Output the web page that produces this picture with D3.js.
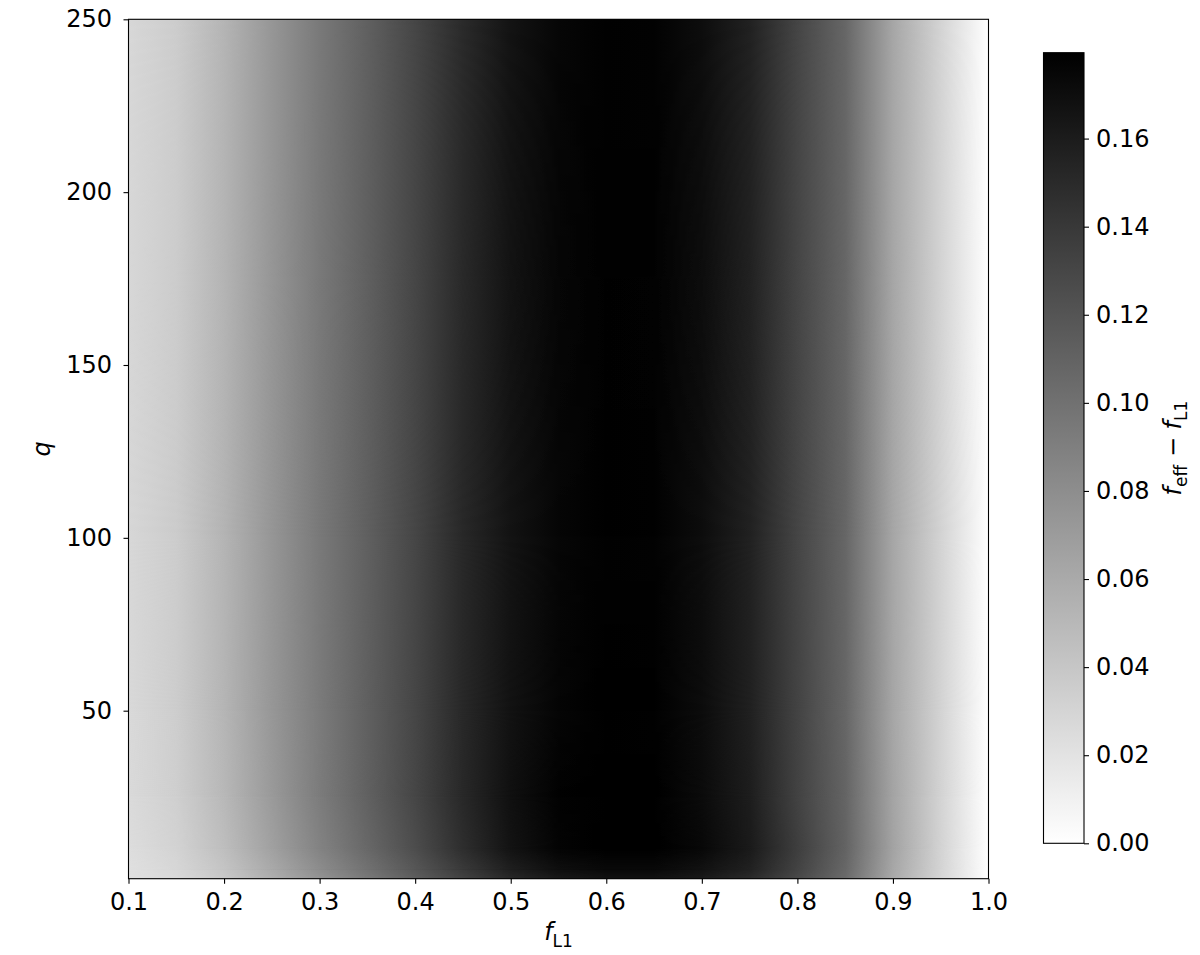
<!DOCTYPE html>
<html><head><meta charset="utf-8">
<script src="https://cdn.jsdelivr.net/npm/d3@7"></script>
<style>body{margin:0;background:#fff} svg{display:block} text{font-family:'DejaVu Sans',sans-serif}</style>
</head><body><svg id="c" width="1200" height="955"></svg>
<script>
// ---- data ----
const fL1 = [0.10,0.15,0.20,0.25,0.30,0.35,0.40,0.45,0.50,0.55,0.60,0.65,0.70,0.75,0.80,0.85,0.90,0.95,1.00];
const qRows = [1.4, 4, 10, 25, 50, 100, 250];
const z_q1  = [0.021,0.026,0.038,0.056,0.075,0.094,0.113,0.133,0.151,0.162,0.167,0.167,0.161,0.150,0.128,0.104,0.060,0.029,0.000];
const z_q4  = [0.022,0.028,0.041,0.060,0.080,0.099,0.118,0.139,0.158,0.169,0.173,0.173,0.167,0.156,0.132,0.107,0.062,0.030,0.000];
const z_q10 = [0.024,0.031,0.046,0.066,0.087,0.106,0.125,0.147,0.166,0.177,0.182,0.182,0.174,0.161,0.136,0.110,0.065,0.031,0.000];
const z_q25 = [0.026,0.034,0.050,0.071,0.092,0.111,0.130,0.151,0.168,0.178,0.182,0.181,0.172,0.159,0.133,0.109,0.064,0.031,0.000];
const z_q50 = [0.027,0.035,0.052,0.073,0.093,0.112,0.130,0.151,0.167,0.176,0.180,0.179,0.171,0.157,0.132,0.108,0.063,0.031,0.000];
const z_q100= [0.028,0.036,0.053,0.074,0.094,0.112,0.130,0.151,0.166,0.175,0.179,0.178,0.170,0.156,0.131,0.108,0.063,0.031,0.000];
const z_q250= [0.028,0.036,0.053,0.074,0.094,0.112,0.130,0.150,0.166,0.175,0.179,0.178,0.170,0.156,0.131,0.108,0.063,0.031,0.000];
const xTicks = [0.1,0.2,0.3,0.4,0.5,0.6,0.7,0.8,0.9,1.0];
const yTicks = [50,100,150,200,250];
const cbTicks = [0,0.02,0.04,0.06,0.08,0.10,0.12,0.14,0.16];
const vMax = 0.1795;
const rows = [z_q1,z_q4,z_q10,z_q25,z_q50,z_q100,z_q250];

// ---- layout ----
const L=128.5,R=988.5,T=19.3,B=878.7;
const CBL=1043.5,CBR=1084,CBT=52.7,CBB=843.3;
const FS=24;

const svg = d3.select('#c');
const x = d3.scaleLinear().domain([0.1,1.0]).range([L,R]);
const y = d3.scaleLinear().domain([1.4,250]).range([B,T]);
const color = d3.scaleLinear().domain([0,vMax]).range(['#ffffff','#000000']).clamp(true);
const defs = svg.append('defs');
const x0 = x(fL1[0]), x1 = x(fL1[fL1.length-1]);

rows.forEach((r,i)=>{
  const g = defs.append('linearGradient').attr('id','row'+i)
    .attr('gradientUnits','userSpaceOnUse')
    .attr('x1',x0).attr('x2',x1).attr('y1',0).attr('y2',0);
  g.selectAll('stop').data(r).join('stop')
    .attr('offset',(d,j)=>(x(fL1[j])-x0)/(x1-x0))
    .attr('stop-color',d=>color(d));
});
for(let i=0;i<qRows.length-1;i++){
  const yb=y(qRows[i]), yt=y(qRows[i+1]);
  const vg = defs.append('linearGradient').attr('id','v'+i)
    .attr('gradientUnits','userSpaceOnUse')
    .attr('x1',0).attr('x2',0).attr('y1',yb).attr('y2',yt);
  vg.append('stop').attr('offset',0).attr('stop-color','#000');
  vg.append('stop').attr('offset',1).attr('stop-color','#fff');
  const m = defs.append('mask').attr('id','m'+i)
    .attr('maskUnits','userSpaceOnUse').attr('x',L-2).attr('y',yt-2).attr('width',R-L+4).attr('height',yb-yt+4);
  m.append('rect').attr('x',L-2).attr('y',yt-1).attr('width',R-L+4).attr('height',yb-yt+2).attr('fill','url(#v'+i+')');
}

const heat = svg.append('g');
heat.append('rect').attr('x',L).attr('y',T).attr('width',R-L).attr('height',B-T).attr('fill','url(#row4)');
for(let i=0;i<qRows.length-1;i++){
  const yb=y(qRows[i]), yt=y(qRows[i+1]);
  heat.append('rect').attr('x',L).attr('y',yt).attr('width',R-L).attr('height',yb-yt).attr('fill','url(#row'+i+')');
  heat.append('rect').attr('x',L).attr('y',yt).attr('width',R-L).attr('height',yb-yt).attr('fill','url(#row'+(i+1)+')').attr('mask','url(#m'+i+')');
}

// frame
svg.append('rect').attr('x',L).attr('y',T).attr('width',R-L).attr('height',B-T)
  .attr('fill','none').attr('stroke','#000').attr('stroke-width',1.1);

function styleAxis(g){
  g.select('.domain').remove();
  g.selectAll('line').attr('stroke','#000').attr('stroke-width',1.1);
  g.selectAll('text').attr('font-size',FS).attr('font-family',"'DejaVu Sans',sans-serif").attr('fill','#000');
  g.attr('font-size',FS).attr('font-family',"'DejaVu Sans',sans-serif");
}
svg.append('g').attr('transform',`translate(0,${B})`)
  .call(d3.axisBottom(x).tickValues(xTicks).tickFormat(d3.format('.1f')).tickSize(5).tickPadding(8.8))
  .call(styleAxis);
svg.append('g').attr('transform',`translate(${L},0)`)
  .call(d3.axisLeft(y).tickValues(yTicks).tickFormat(d3.format('d')).tickSize(5).tickPadding(11.5))
  .call(styleAxis);

// axis labels
const xl = svg.append('text').attr('x',(L+R)/2).attr('y',940).attr('text-anchor','middle').attr('font-size',FS);
xl.append('tspan').attr('font-style','italic').text('f');
xl.append('tspan').attr('font-size',17).attr('dy',7).text('L1');

svg.append('text').attr('transform',`translate(50,${(T+B)/2}) rotate(-90)`).attr('text-anchor','middle')
  .attr('font-size',FS).attr('font-style','italic').text('q');

// colorbar
const cy = d3.scaleLinear().domain([0,vMax]).range([CBB,CBT]);
const cg = defs.append('linearGradient').attr('id','cbg').attr('gradientUnits','userSpaceOnUse')
  .attr('x1',0).attr('x2',0).attr('y1',CBB).attr('y2',CBT);
cg.selectAll('stop').data([0,vMax]).join('stop').attr('offset',(d,i)=>i).attr('stop-color',d=>color(d));
svg.append('rect').attr('x',CBL).attr('y',CBT).attr('width',CBR-CBL).attr('height',CBB-CBT)
  .attr('fill','url(#cbg)').attr('stroke','#000').attr('stroke-width',1.1);
svg.append('g').attr('transform',`translate(${CBR},0)`)
  .call(d3.axisRight(cy).tickValues(cbTicks).tickFormat(d3.format('.2f')).tickSize(5).tickPadding(7))
  .call(styleAxis);

const cl = svg.append('text').attr('transform',`translate(1181,${(CBT+CBB)/2}) rotate(-90)`)
  .attr('text-anchor','middle').attr('font-size',FS);
cl.append('tspan').attr('font-style','italic').text('f');
cl.append('tspan').attr('font-size',17).attr('dy',6).text('eff');
cl.append('tspan').attr('dy',-6).text(' \u2212 ');
cl.append('tspan').attr('font-style','italic').text('f');
cl.append('tspan').attr('font-size',17).attr('dy',6).text('L1');
</script></body></html>
